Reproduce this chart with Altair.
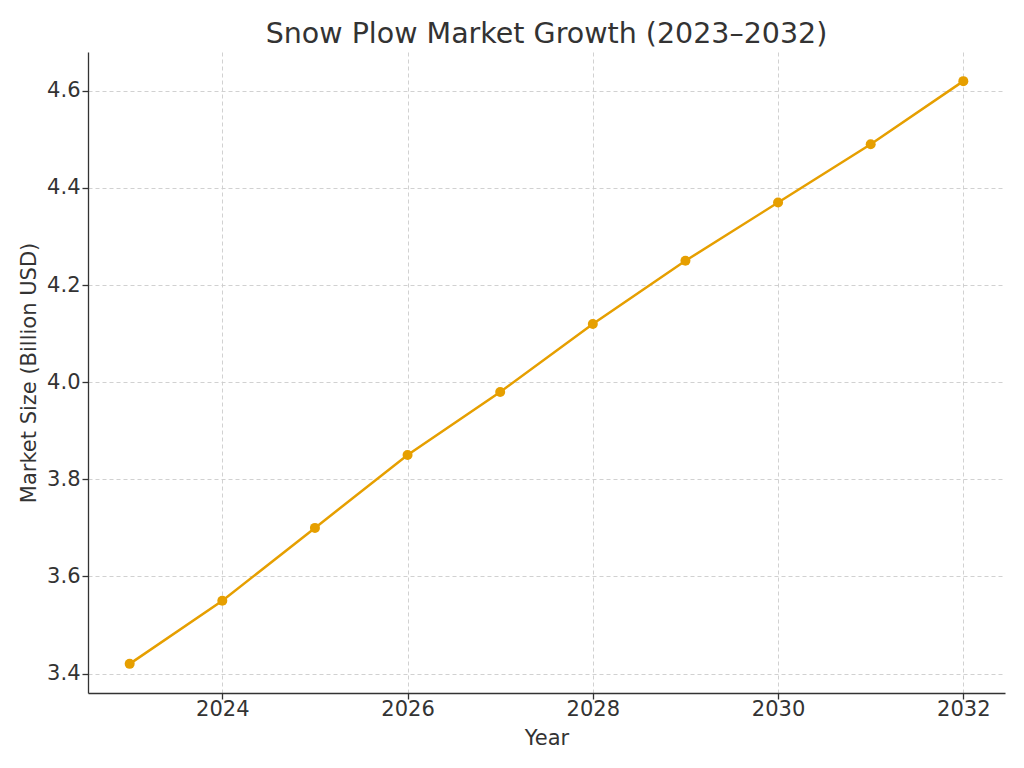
import altair as alt
import pandas as pd

years = [2023, 2024, 2025, 2026, 2027, 2028, 2029, 2030, 2031, 2032]
market_size = [3.42, 3.55, 3.70, 3.85, 3.98, 4.12, 4.25, 4.37, 4.49, 4.62]

df = pd.DataFrame({"Year": years, "Size": market_size})

FONT = "DejaVu Sans"
TXT = "#333333"
ORANGE = "#E69F00"

base = alt.Chart(df).encode(
    x=alt.X("Year:Q",
            scale=alt.Scale(domain=[2022.55, 2032.45], nice=False, zero=False),
            axis=alt.Axis(values=[2024, 2026, 2028, 2030, 2032], format="d",
                          title="Year")),
    y=alt.Y("Size:Q",
            scale=alt.Scale(domain=[3.36, 4.68], nice=False, zero=False),
            axis=alt.Axis(values=[3.4, 3.6, 3.8, 4.0, 4.2, 4.4, 4.6], format=".1f",
                          title="Market Size (Billion USD)")),
)

line = base.mark_line(color=ORANGE, strokeWidth=2.5)
pts = base.mark_circle(color=ORANGE, size=100, opacity=1)

chart = (line + pts).properties(
    width=917,
    height=641,
    title=alt.TitleParams("Snow Plow Market Growth (2023–2032)", font=FONT,
                          fontSize=28.5, fontWeight="normal", color=TXT, offset=4),
    autosize=alt.AutoSizeParams(type="none"),
    padding={"left": 80, "top": 44, "right": 11, "bottom": 67},
).configure_view(stroke=None).configure_axis(
    labelFont=FONT, labelFontSize=21, labelColor=TXT,
    titleFont=FONT, titleFontSize=21, titleColor=TXT, titleFontWeight="normal",
    domainColor=TXT, domainWidth=1.3, tickColor=TXT, tickWidth=1.3, tickSize=6,
    gridColor="#cccccc", gridDash=[4, 3], gridWidth=0.9,
).configure_axisX(labelPadding=-1, titlePadding=8, labelFlush=False
).configure_axisY(labelPadding=2, titlePadding=7)

chart.save("out.html", embed_options={"renderer": "svg", "actions": False})
